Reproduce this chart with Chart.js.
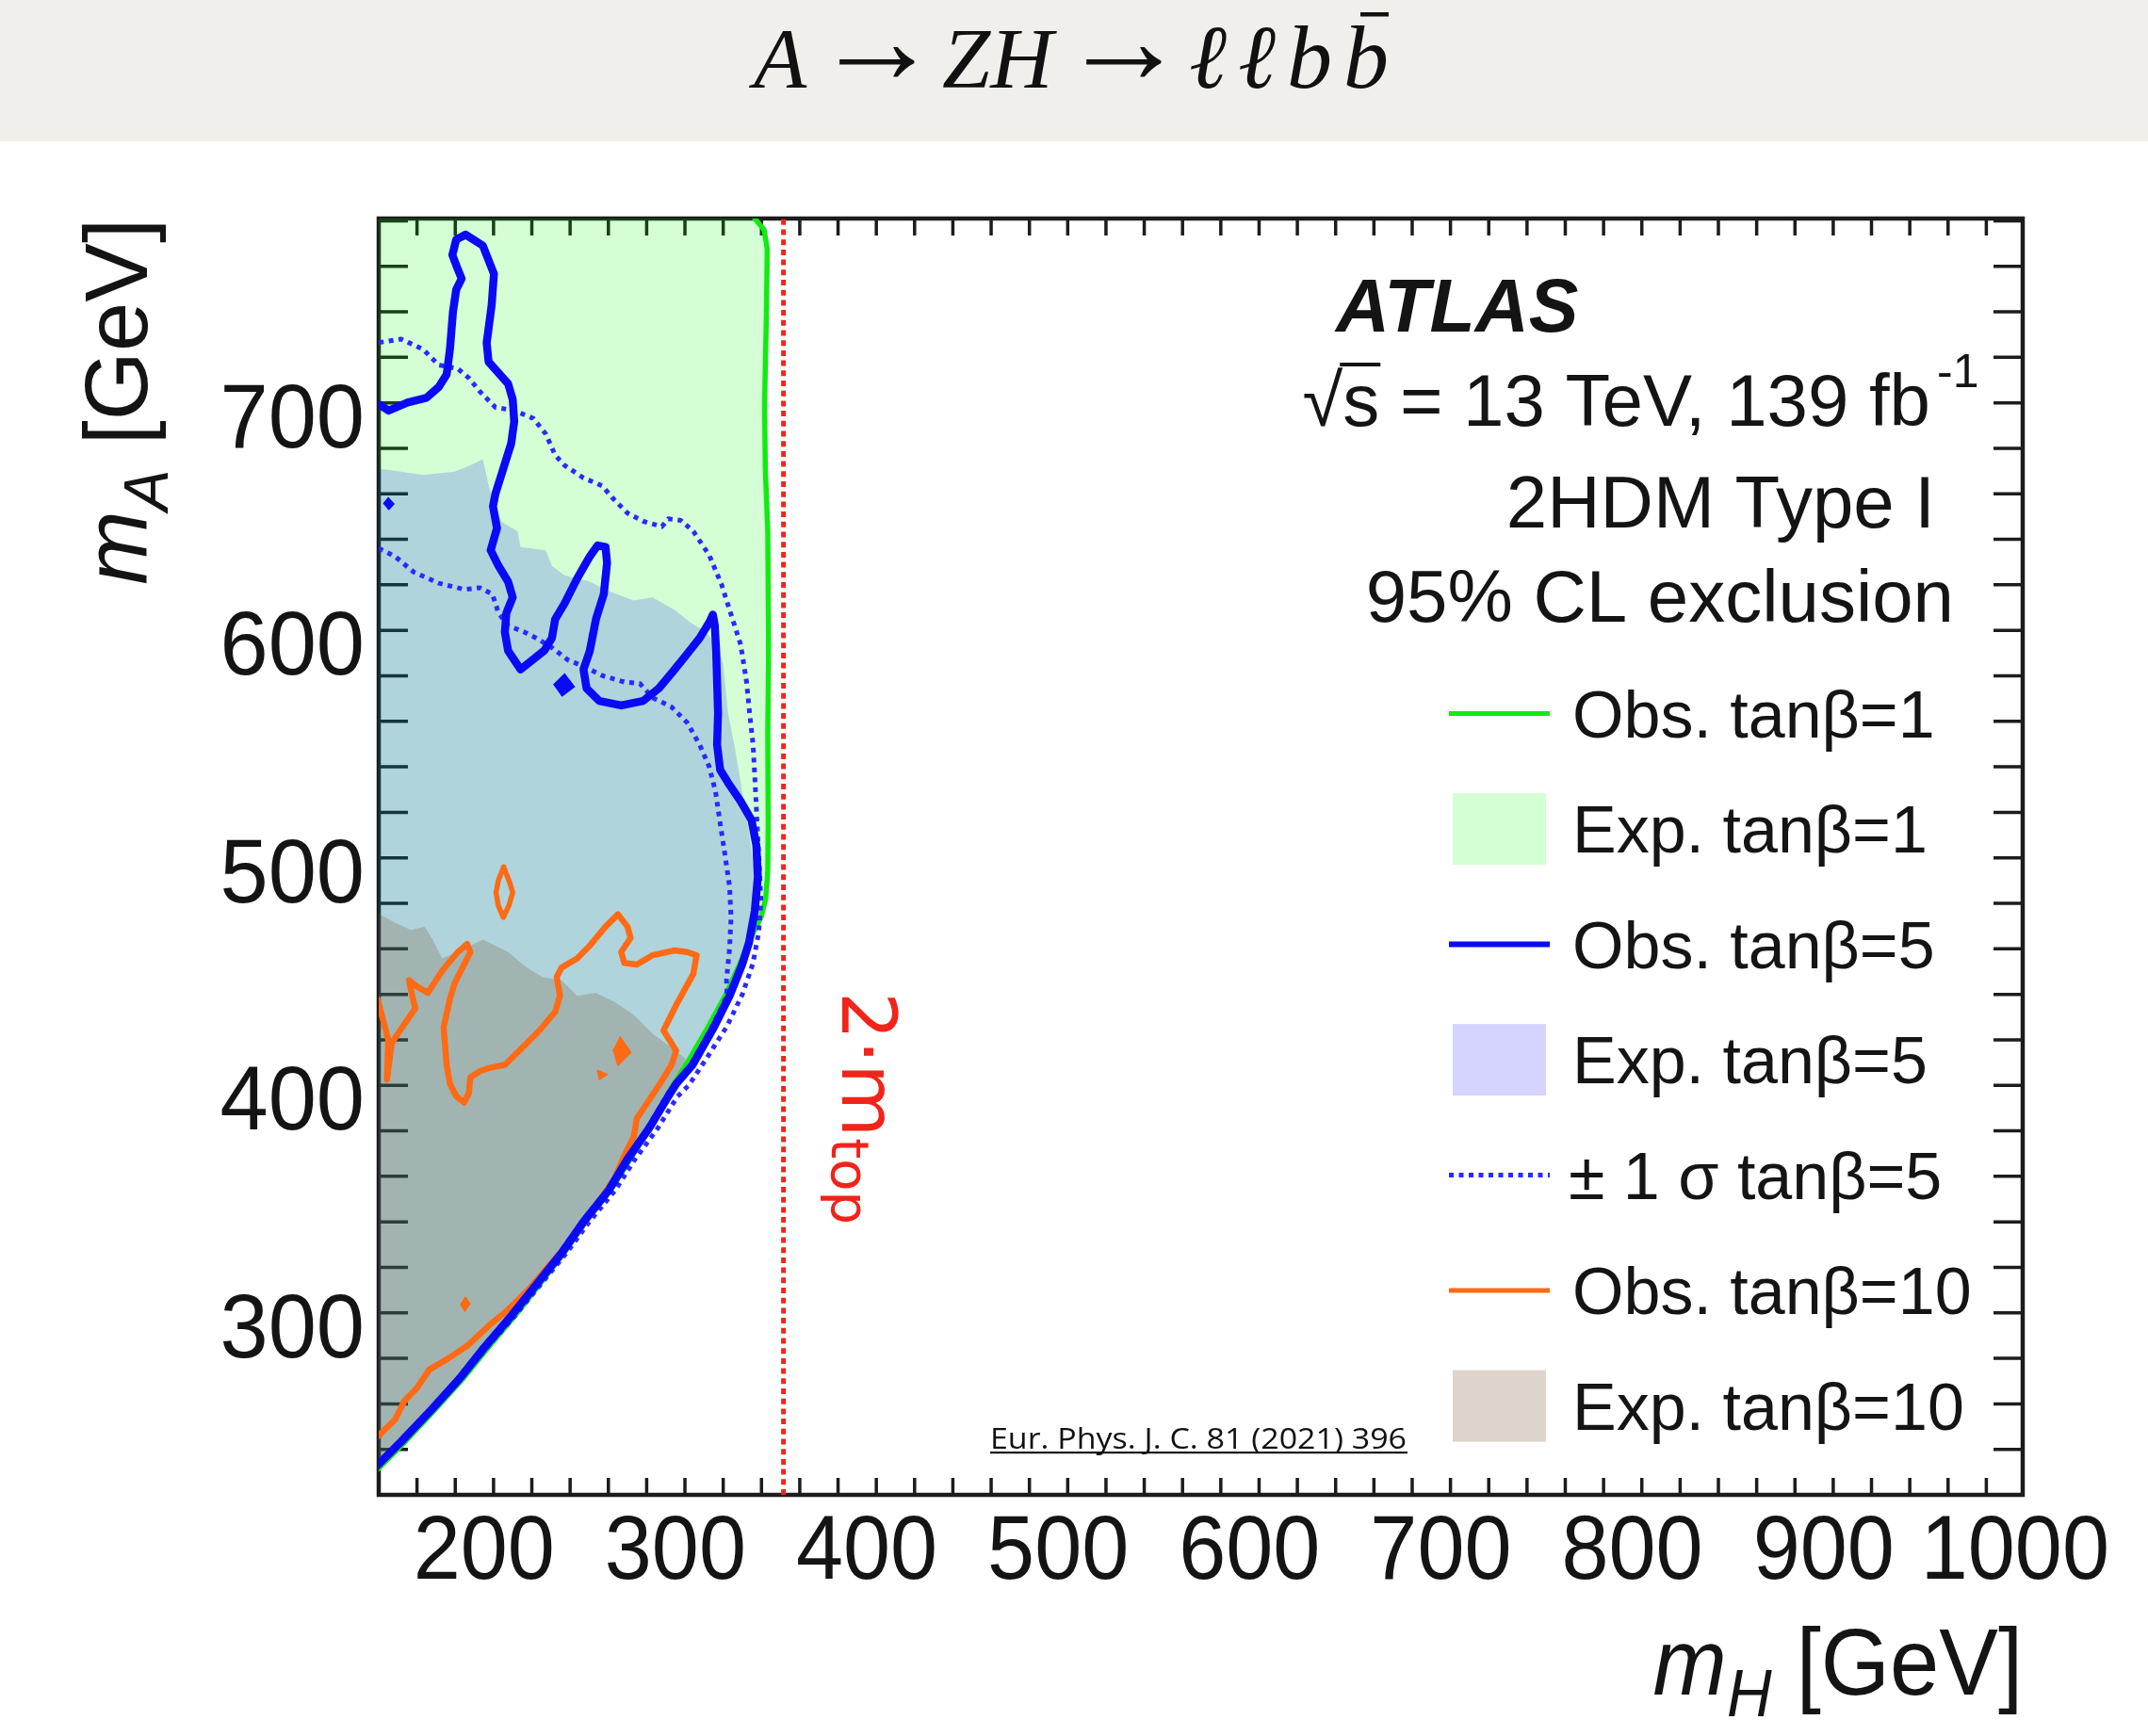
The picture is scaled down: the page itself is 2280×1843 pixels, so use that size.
<!DOCTYPE html>
<html lang="en">
<head>
<meta charset="utf-8">
<title>A → ZH → ℓℓbb̄ exclusion</title>
<script src="https://cdn.jsdelivr.net/npm/chart.js@4.4.1/dist/chart.umd.min.js"></script>
<style>
  html, body { margin: 0; padding: 0; background: #ffffff; }
  #plot { display: block; }
</style>
</head>
<body>
<canvas id="plot" width="2280" height="1843"></canvas>
<script>
// --- Achsen ---
const X_MIN = 145, X_MAX = 1004;
const Y_MIN = 225, Y_MAX = 786;
const X_LABELED = [200, 300, 400, 500, 600, 700, 800, 900, 1000];
const Y_LABELED = [300, 400, 500, 600, 700];
const TWO_MTOP = 356.5;

// --- Konturen, jeweils [mH, mA] in GeV ---
// beobachtet tanβ=1 (grün), von oben rechts um die kinematische Kante herum
const obs1 = [[340.5,790],[341.5,786],[346.4,781],[348,772.7],[347.6,745],[346.6,704],[347,676],[348.3,648.5],
  [348.7,596],[348.3,560],[348.5,520],[348.3,499.5],[347.2,487],[344.8,479],[340.6,471.9],[333.5,458.1],
  [326,444.3],[317,430.5],[307.5,416.7],[298,404],[288.5,389.5],[277.5,374],[267,360],[254,346],[242.5,332],
  [229.5,318],[216.5,304],[202.5,290],[189.5,276.5],[174.5,262.5],[159,248.5],[146,237.5],[140,232.5]];

// Oberkante der erwarteten Ausschlüsse (unten jeweils bis zur Kante von obs1)
const exp5Top = [[140,676.1],[145,676],[151.8,675.4],[168.2,673.3],[184.6,674.7],[192.9,677.5],[199.4,680.2],
  [202.7,667.8],[206,659.5],[209.3,652.6],[217.5,648.5],[219.1,641.6],[232.3,640.2],[235.5,633.3],[242.1,629.2],
  [255.3,626.4],[265.1,622.3],[278.2,618.1],[288.1,619.5],[299.6,614],[307.8,608.5],[316,604.3],[322.6,597.4],
  [325,590],[327.5,568.5],[330.8,554.7],[335,534],[339,513.3],[342.3,492.6],[344.3,480]];
const exp10Top = [[140,481],[145,480.5],[153.5,476.5],[161.7,473.3],[169,474.7],[173.2,469.1],[178.1,460.8],
  [186.3,463.6],[199.4,469.1],[212.6,463.6],[222.4,456.7],[230.6,452.6],[240.5,451.2],[248.7,444.3],
  [258.5,445.7],[268.4,441.5],[278.2,436],[288.1,427.7],[294.7,423.6],[301.2,419.4],[305.5,416.5]];

// beobachtet tanβ=5 (blau)
const obs5 = [[140,707],[143.6,705.1],[150.2,701.6],[160,705.1],[169.9,707.2],[176.4,712],[180.5,717.5],
  [182.2,728.5],[183.8,745.1],[185.5,754.8],[188.3,759.6],[186,764.4],[183.5,770],[185.5,776.8],[190.4,778.9],
  [199.4,774.1],[205.2,761.7],[204,747.9],[201.4,731.3],[202.4,723],[206.8,718.9],[212.6,713.4],[215,706.5],
  [215.8,696.8],[214.2,687.1],[210.1,676.1],[206,665.1],[204.7,659.5],[206.8,649.9],[203.5,640.2],[207.6,633.3],
  [212.6,626.4],[215,619.5],[211.7,612.6],[210.9,604.3],[212.6,596],[219.1,587.8],[231.5,596.1],[235.5,601.6],
  [237.2,609.9],[242.1,616.8],[248.7,627.8],[255.3,637.5],[259.4,642.3],[263.5,641.6],[264.3,634.7],
  [262.6,620.9],[258.5,609.9],[255.3,596],[252,587.8],[253.6,579.5],[260.2,574],[271.7,572],[283.2,574],
  [291.4,579.5],[299.6,587.8],[306.2,594.7],[312.7,601.6],[317.7,608.5],[319.6,611.9],[320.6,607.1],[321.3,596],
  [321.8,582.3],[322.3,568.5],[321.8,554.7],[323.4,543.7],[327.5,538.1],[334.1,529.9],[339.8,521.6],
  [342.3,510.5],[343.1,496.7],[341.5,481.6],[338.5,467.8],[334.9,458.1],[328.3,444.3],[320.1,430.5],[309,414],
  [300.5,405.7],[296.3,400.2],[286.5,386.4],[275,372.6],[265.1,358.8],[252,345],[240.5,331.2],[227.3,317.4],
  [214.2,303.6],[200.2,289.8],[187.1,276],[172.3,262.2],[156.7,248.4],[143.6,237.4],[140,233.5]];
const obs5Spots = [
  [[236.4,580.9],[242.1,585.6],[247,580.2],[240.5,576.1]],
  [[147.5,660.5],[150,663],[152.7,660.5],[150,658]]];

// ±1σ tanβ=5 (blau gepunktet)
const sigUp5 = [[140,731.5],[143.6,731.3],[156.7,733],[168.2,728.5],[176.4,721.6],[186.3,720],[192,716],
  [197.8,710],[206,703],[215.8,701.6],[225.7,698.2],[232.3,691.3],[237.2,682],[242.1,677.5],[252,672],
  [261.8,668.5],[266.8,663.5],[275,656.5],[283,653],[293,650.6],[296.3,654],[302.9,653.3],[309.4,648.5],
  [317.7,638],[324.2,625],[329.1,612],[334.1,598.8],[337.2,582.3],[338.8,568.5],[340.6,554.7],[341.5,540.9],
  [342.3,527.1],[343.1,513.3],[344,499.5],[344.7,485.7],[343.5,471.9],[340.5,458.5],[335,445],[327,431],
  [316,416.5],[307,405],[301,400],[291,386.4],[279,372.6],[268.5,358.8],[255,345],[243,331.2],[229.5,317.4],
  [216,303.6],[201.5,289.8],[188,276],[173,262.2],[157.2,248.4],[143.9,237.2],[140,234]];
const sigDn5 = [[140,642],[143.6,641.6],[153.5,637.5],[163.3,630.6],[176.4,625.7],[189.6,623],[197.8,623.7],
  [204.4,620.9],[207.6,612.6],[212.6,607.1],[220.8,604.3],[227.3,601.6],[235.5,597.4],[243.8,592],[252,589.2],
  [261.8,585.1],[273.3,582.3],[281.5,581.6],[288.1,575.4],[298,571.3],[306.2,564.4],[312.7,554.7],[317.7,545],
  [321,534],[323.4,520.2],[325.9,506.4],[328.3,492.6],[329.1,478.8],[328.3,465],[326.7,451.2],[327,444.3],
  [319,430.5],[308,414],[299.5,405.7],[295.3,400.2],[285.5,386.4],[274,372.6],[264,358.8],[251,345],
  [239.5,331.2],[226.3,317.4],[213.2,303.6],[199.2,289.8],[186.1,276],[171.3,262.2],[155.7,248.4],
  [142.6,237.4],[140,235]];

// beobachtet tanβ=10 (orange)
const obs10 = [[140,446],[144.4,442.9],[150,425],[149.3,407.5],[151.8,423.6],[158.4,431.9],[164.1,438.8],
  [162.5,444.3],[160.8,451.2],[165,448.4],[170.7,445.7],[178.1,455.3],[186.3,463.6],[191.2,467.1],[192.9,463.6],
  [189.6,458.1],[184.6,449.8],[182.2,442.9],[178.9,430.5],[180.5,414],[182.2,405.7],[185.5,400.2],[189.6,397.4],
  [192.1,401.6],[192.9,408.5],[197.8,411.2],[202.7,412.6],[210.9,414],[219.1,420.8],[229,429.1],[237.2,437.4],
  [239.7,444.3],[238,452.6],[240.5,456.7],[248.7,460.8],[255.3,466.4],[263.5,474.7],[270,480.2],[275,474.7],
  [276.6,469.8],[271.7,463.6],[273.3,458.8],[279.9,458.1],[288.1,462.2],[299.6,464.3],[306.2,463.6],
  [311.1,462.2],[309.4,454],[301.2,441.5],[293.8,429.1],[300.4,420.2],[298,414],[293,407.1],[286.5,398.8],
  [279.9,390.5],[278.2,382.3],[273.3,374],[268.4,364.3],[261.8,356],[255.3,347.8],[245.4,336.7],[233.9,325.7],
  [224.1,316],[212.6,306.4],[202.7,299.5],[191.2,290.5],[181.4,285],[171.5,280.1],[164.9,271.9],[158.4,266.3],
  [153.5,258],[145.2,251.2],[140,247.5]];
const obs10Ring = [[210.3,501],[213.5,494],[215,489.8],[213,484],[210.1,478.8],[207.5,484],[206.3,489.8],
  [207.5,495],[210.3,501]];
const obs10Spots = [
  [[270.9,426.4],[276.6,419.5],[270,414],[267.6,420.9]],
  [[259,411.5],[264,409.8],[260,407.5]],
  [[190,312],[192.5,309],[190,306],[187.8,309]]];

const LEGEND_LABELS = ['Obs. tanβ=1', 'Exp. tanβ=1', 'Obs. tanβ=5', 'Exp. tanβ=5',
  '± 1 σ tanβ=5', 'Obs. tanβ=10', 'Exp. tanβ=10'];

// --- Stil ---
const SANS = '"Liberation Sans", Arial, Helvetica, sans-serif';
const SERIF = '"Liberation Serif", "Times New Roman", serif';
const LUCIDA = '"DejaVu Sans", "Liberation Sans", sans-serif';

const COL = {
  obs1: '#12ea12',
  exp1: 'rgba(0,255,0,0.17)',
  obs5: '#0a0af5',
  exp5: 'rgba(0,0,255,0.17)',
  sig5: '#2a2aff',
  obs10: '#ff6a14',
  exp10: 'rgba(120,84,52,0.25)',
  mtop: '#f0241a',
  ink: '#141414',
};
const DOT = [5, 5.5];

// Legendeneintrag -> Muster
const LEGEND_KIND = [
  { kind: 'line', color: COL.obs1, width: 5 },
  { kind: 'box', color: COL.exp1 },
  { kind: 'line', color: COL.obs5, width: 6 },
  { kind: 'box', color: COL.exp5 },
  { kind: 'line', color: COL.sig5, width: 5, dash: DOT },
  { kind: 'line', color: COL.obs10, width: 5 },
  { kind: 'box', color: COL.exp10 },
];

const asPoints = pts => pts.map(([x, y]) => ({ x, y }));

function lineSet(pts, color, width, extra) {
  return Object.assign({
    data: asPoints(pts), showLine: true, fill: false,
    borderColor: color, borderWidth: width,
    borderJoinStyle: 'round', borderCapStyle: 'round',
    pointRadius: 0, pointHoverRadius: 0,
  }, extra);
}

// geschlossene Fläche über fill: 'shape'
function areaSet(pts, color, extra) {
  return Object.assign({
    data: asPoints(pts), showLine: true, fill: 'shape',
    backgroundColor: color, borderColor: 'rgba(0,0,0,0)', borderWidth: 1,
    pointRadius: 0, pointHoverRadius: 0,
  }, extra);
}

// Flächen: Oberkante + kinematische Kante aus obs1
const exp1Area = obs1.concat([[140, 790]]);
const exp5Area = exp5Top.concat(obs1.filter(p => p[1] < 478));
const exp10Area = exp10Top.concat(obs1.filter(p => p[1] < 416));

// Textläufe nebeneinander zeichnen
function drawRuns(ctx, x, y, runs) {
  let cx = x;
  for (const r of runs) {
    ctx.font = r.font;
    ctx.fillText(r.text, cx, y + (r.dy || 0));
    cx += ctx.measureText(r.text).width + (r.gap || 0);
  }
  return cx;
}
function runsWidth(ctx, runs) {
  let w = 0;
  for (const r of runs) { ctx.font = r.font; w += ctx.measureText(r.text).width + (r.gap || 0); }
  return w;
}

// Zeichen gleichmäßig auf eine Breite verteilen, gibt Startpositionen zurück
function spreadChars(ctx, chars, x0, x1, y) {
  const widths = chars.map(c => ctx.measureText(c).width);
  const total = widths.reduce((s, w) => s + w, 0);
  const gap = (x1 - x0 - total) / (chars.length - 1);
  const xs = [];
  let cx = x0;
  chars.forEach((c, i) => { xs.push(cx); ctx.fillText(c, cx, y); cx += widths[i] + gap; });
  return xs;
}

function axisTitle(sub) {
  return [
    { text: 'm', font: `italic 94px ${SANS}` },
    { text: sub, font: `italic 66px ${SANS}`, dy: 22 },
    { text: ' [GeV]', font: `94px ${SANS}` },
  ];
}

// Hintergrund, Titelband und Formel
const background = {
  id: 'background',
  beforeDraw(chart) {
    const ctx = chart.ctx;
    ctx.save();
    ctx.fillStyle = '#ffffff';
    ctx.fillRect(0, 0, chart.width, chart.height);
    ctx.fillStyle = '#f0efeb';
    ctx.fillRect(0, 0, chart.width, 150);

    const it = `italic 92px ${SERIF}`;
    ctx.fillStyle = '#111';
    ctx.textBaseline = 'alphabetic';
    ctx.textAlign = 'left';
    ctx.font = it;
    ctx.fillText('A', 800, 93);
    ctx.fillText('ZH', 1000, 93);
    ctx.font = `italic 96px ${SERIF}`;
    const xs = spreadChars(ctx, ['ℓ', 'ℓ', 'b', 'b'], 1262, 1474, 93);
    ctx.fillRect(xs[3] + 18, 13, 30, 4.5);
    ctx.font = `134px ${SERIF}`;
    ctx.textAlign = 'center';
    ctx.fillText('→', 931, 88);
    ctx.fillText('→', 1193, 88);
    ctx.restore();
  }
};

// Rahmen mit nach innen zeigenden Ticks (vor den Flächen, wie im Original)
const frameTicks = {
  id: 'frameTicks',
  beforeDatasetsDraw(chart) {
    const { ctx, chartArea: a, scales: { x, y } } = chart;
    ctx.save();
    ctx.strokeStyle = '#1c1c1c';
    ctx.lineWidth = 3.5;
    ctx.beginPath();
    x.ticks.forEach(t => {
      const px = x.getPixelForValue(t.value);
      const len = t.value % 100 === 0 ? 35 : 18;
      ctx.moveTo(px, a.bottom); ctx.lineTo(px, a.bottom - len);
      ctx.moveTo(px, a.top); ctx.lineTo(px, a.top + len);
    });
    y.ticks.forEach(t => {
      const py = y.getPixelForValue(t.value);
      const len = t.value % 100 === 0 ? 60 : 31;
      ctx.moveTo(a.left, py); ctx.lineTo(a.left + len, py);
      ctx.moveTo(a.right, py); ctx.lineTo(a.right - len, py);
    });
    ctx.stroke();
    ctx.lineWidth = 4.5;
    ctx.strokeRect(a.left, a.top, a.right - a.left, a.bottom - a.top);
    ctx.restore();
  }
};

// Tick-Beschriftung an den Skalenpositionen
const tickLabels = {
  id: 'tickLabels',
  afterDraw(chart) {
    const { ctx, scales: { x, y } } = chart;
    ctx.save();
    ctx.fillStyle = COL.ink;
    ctx.textBaseline = 'alphabetic';
    ctx.font = `90px ${SANS}`;
    ctx.textAlign = 'center';
    X_LABELED.forEach(v => {
      ctx.save();
      ctx.translate(x.getPixelForValue(v), 1676);
      ctx.scale(1, 1.08);
      ctx.fillText(String(v), 0, 0);
      ctx.restore();
    });
    ctx.font = `92px ${SANS}`;
    ctx.textAlign = 'right';
    Y_LABELED.forEach(v => {
      ctx.save();
      ctx.translate(387, y.getPixelForValue(v) + 35);
      ctx.scale(1, 1.04);
      ctx.fillText(String(v), 0, 0);
      ctx.restore();
    });
    ctx.restore();
  }
};

// Beschriftungen, Legende, Achsentitel
const annotations = {
  id: 'annotations',
  afterDatasetsDraw(chart) {
    const { ctx, chartArea: a } = chart;
    ctx.save();
    ctx.textBaseline = 'alphabetic';
    ctx.fillStyle = COL.ink;

    // ATLAS-Block
    ctx.textAlign = 'left';
    ctx.font = `italic bold 79px ${SANS}`;
    ctx.fillText('ATLAS', 1418, 352);

    ctx.font = `78px ${SANS}`;
    const rest = ' = 13 TeV, 139 fb';
    const wRoot = ctx.measureText('√').width;
    const wS = ctx.measureText('s').width;
    const wRest = ctx.measureText(rest).width;
    const x0 = 2049 - (wRoot + wS + wRest);
    ctx.fillText('√', x0, 452);
    ctx.fillText('s', x0 + wRoot, 452);
    ctx.fillRect(x0 + wRoot - 3, 452 - 67, wS + 4, 4);
    ctx.fillText(rest, x0 + wRoot + wS, 452);
    ctx.font = `50px ${SANS}`;
    ctx.fillText('-1', 2056, 411);

    ctx.font = `78px ${SANS}`;
    ctx.textAlign = 'right';
    ctx.fillText('2HDM Type I', 2054, 560);
    ctx.fillText('95% CL exclusion', 2074, 660);

    // Legende
    ctx.textAlign = 'left';
    LEGEND_LABELS.forEach((label, i) => {
      const st = LEGEND_KIND[i];
      const yc = 757.6 + i * 122.5;
      if (st.kind === 'box') {
        ctx.fillStyle = st.color;
        ctx.fillRect(1542, yc - 38, 99, 76);
      } else {
        ctx.strokeStyle = st.color;
        ctx.lineWidth = st.width;
        ctx.setLineDash(st.dash || []);
        ctx.beginPath();
        ctx.moveTo(1538, yc);
        ctx.lineTo(1645, yc);
        ctx.stroke();
        ctx.setLineDash([]);
      }
      ctx.fillStyle = COL.ink;
      ctx.font = `70px ${SANS}`;
      ctx.fillText(label, i === 4 ? 1665 : 1669, yc + 25);
    });

    // 2·m_top an der roten Linie
    ctx.save();
    ctx.translate(893.5, 1053);
    ctx.rotate(Math.PI / 2);
    ctx.fillStyle = COL.mtop;
    ctx.font = `80px ${LUCIDA}`;
    ctx.fillText('2·m', 0, 0);
    const wm = ctx.measureText('2·m').width;
    ctx.font = `56px ${LUCIDA}`;
    ctx.fillText('top', wm + 1, 11);
    ctx.restore();

    // Quellenangabe
    ctx.fillStyle = '#111';
    ctx.font = `31px "Open Sans", ${SANS}`;
    const cite = 'Eur. Phys. J. C. 81 (2021) 396';
    const cw = ctx.measureText(cite).width;
    ctx.save();
    ctx.translate(1051, 1538);
    ctx.scale(442 / cw, 1);
    ctx.fillText(cite, 0, 0);
    ctx.restore();
    ctx.fillRect(1051, 1541, 443, 2.2);

    // Achsentitel
    ctx.fillStyle = COL.ink;
    const xRuns = axisTitle('H');
    const wx = runsWidth(ctx, xRuns);
    ctx.save();
    ctx.translate(a.right - wx, 1799);
    ctx.scale(1, 1.06);
    drawRuns(ctx, 0, 0, xRuns);
    ctx.restore();
    const yRuns = axisTitle('A');
    ctx.save();
    ctx.translate(156, a.top + runsWidth(ctx, yRuns));
    ctx.rotate(-Math.PI / 2);
    drawRuns(ctx, 0, 0, yRuns);
    ctx.restore();

    ctx.restore();
  }
};

new Chart(document.getElementById('plot'), {
  type: 'scatter',
  data: {
    datasets: [
      areaSet(exp1Area, COL.exp1, { order: 9 }),
      areaSet(exp5Area, COL.exp5, { order: 8 }),
      areaSet(exp10Area, COL.exp10, { order: 7 }),
      lineSet(obs1, COL.obs1, 5.5, { order: 6 }),
      lineSet(sigUp5, COL.sig5, 5, { order: 5, borderDash: DOT, borderCapStyle: 'butt' }),
      lineSet(sigDn5, COL.sig5, 5, { order: 5, borderDash: DOT, borderCapStyle: 'butt' }),
      lineSet(obs10, COL.obs10, 6.5, { order: 4 }),
      lineSet(obs10Ring, COL.obs10, 5.5, { order: 4 }),
      ...obs10Spots.map(s => areaSet(s, COL.obs10, { order: 4, borderColor: COL.obs10, borderWidth: 2 })),
      lineSet(obs5, COL.obs5, 8.5, { order: 3 }),
      ...obs5Spots.map(s => areaSet(s, COL.obs5, { order: 3, borderColor: COL.obs5, borderWidth: 2 })),
      lineSet([[TWO_MTOP, Y_MIN], [TWO_MTOP, Y_MAX]], COL.mtop, 5,
        { order: 2, borderDash: [6, 4.7], borderCapStyle: 'butt' }),
    ],
  },
  options: {
    responsive: false,
    animation: false,
    events: [],
    layout: { padding: { top: 232, right: 133, bottom: 0, left: 0 } },
    plugins: {
      legend: { display: false },
      tooltip: { enabled: false },
    },
    scales: {
      x: {
        type: 'linear',
        position: 'bottom',
        min: X_MIN, max: X_MAX,
        bounds: 'data',
        afterFit: s => { s.height = 256; },
        grid: { display: false },
        border: { display: false },
        ticks: { stepSize: 20, includeBounds: false, autoSkip: false, display: false },
      },
      y: {
        type: 'linear',
        position: 'left',
        min: Y_MIN, max: Y_MAX,
        bounds: 'data',
        afterFit: s => { s.width = 402; },
        grid: { display: false },
        border: { display: false },
        ticks: { stepSize: 20, includeBounds: false, autoSkip: false, display: false },
      },
    },
  },
  plugins: [background, frameTicks, annotations, tickLabels],
});
</script>
</body>
</html>
